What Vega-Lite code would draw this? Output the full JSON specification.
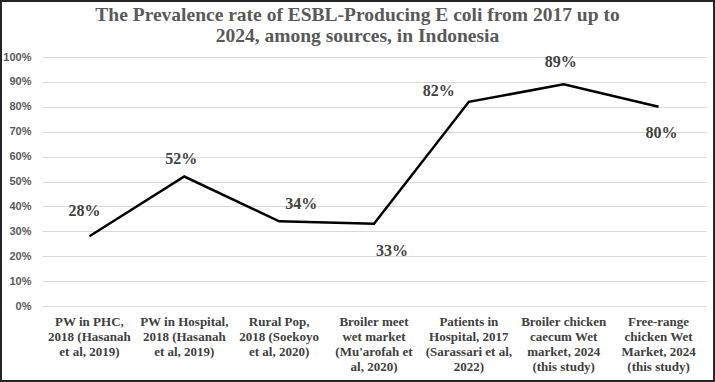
{
  "$schema": "https://vega.github.io/schema/vega-lite/v6.json",
  "width": 713,
  "height": 380,
  "autosize": {"type": "none"},
  "padding": 1,
  "background": "white",
  "config": {"view": {"stroke": "#262626", "strokeWidth": 2}},
  "title": {
    "text": ["The Prevalence rate of ESBL-Producing E coli from 2017 up to", "2024, among sources, in Indonesia"],
    "font": "Liberation Serif",
    "fontSize": 19.5,
    "fontWeight": "bold",
    "color": "#595959",
    "anchor": "middle",
    "offset": -45,
    "lineHeight": 21
  },
  "data": {
    "values": [
      {"source": "PW in PHC,|2018 (Hasanah|et al, 2019)", "rate": 0.28},
      {"source": "PW in Hospital,|2018 (Hasanah|et al, 2019)", "rate": 0.52},
      {"source": "Rural Pop,|2018 (Soekoyo|et al, 2020)", "rate": 0.34},
      {"source": "Broiler meet|wet market|(Mu'arofah et|al, 2020)", "rate": 0.33},
      {"source": "Patients in|Hospital, 2017|(Sarassari et al,|2022)", "rate": 0.82},
      {"source": "Broiler chicken|caecum Wet|market, 2024|(this study)", "rate": 0.89},
      {"source": "Free-range|chicken Wet|Market, 2024|(this study)", "rate": 0.80}
    ]
  },
  "encoding": {
    "x": {
      "field": "source", "type": "nominal", "sort": null,
      "scale": {"type": "band", "paddingInner": 0, "paddingOuter": 0, "range": [41, 705]},
      "axis": {
        "title": null, "labelAngle": 0, "domain": false, "ticks": false, "offset": -75,
        "labelPadding": 9, "labelExpr": "split(datum.label, '|')",
        "labelFont": "Liberation Serif", "labelFontSize": 13, "labelFontWeight": "bold",
        "labelColor": "#404040", "labelLineHeight": 15, "labelLimit": 0, "labelBaseline": "top"
      }
    },
    "y": {
      "field": "rate", "type": "quantitative",
      "scale": {"domain": [0, 1], "range": [305, 56]},
      "axis": {
        "title": null, "format": ".0%", "values": [0, 0.1, 0.2, 0.3, 0.4, 0.5, 0.6, 0.7, 0.8, 0.9, 1],
        "domain": false, "ticks": false, "labelPadding": 11, "offset": -41,
        "labelFont": "Liberation Sans", "labelFontSize": 11, "labelFontWeight": "bold",
        "labelColor": "#595959", "gridColor": "#d9d9d9", "gridWidth": 1
      }
    }
  },
  "layer": [
    {"mark": {"type": "line", "color": "black", "strokeWidth": 2.5}},
    {"transform": [{"filter": "datum.rate == 0.28"}], "mark": {"type": "text", "dx": -5, "dy": -25, "font": "Liberation Serif", "fontSize": 16, "fontWeight": "bold", "color": "#404040"}, "encoding": {"text": {"field": "rate", "format": ".0%"}}},
    {"transform": [{"filter": "datum.rate == 0.52"}], "mark": {"type": "text", "dx": -3, "dy": -18, "font": "Liberation Serif", "fontSize": 16, "fontWeight": "bold", "color": "#404040"}, "encoding": {"text": {"field": "rate", "format": ".0%"}}},
    {"transform": [{"filter": "datum.rate == 0.34"}], "mark": {"type": "text", "dx": 22, "dy": -17, "font": "Liberation Serif", "fontSize": 16, "fontWeight": "bold", "color": "#404040"}, "encoding": {"text": {"field": "rate", "format": ".0%"}}},
    {"transform": [{"filter": "datum.rate == 0.33"}], "mark": {"type": "text", "dx": 18, "dy": 27, "font": "Liberation Serif", "fontSize": 16, "fontWeight": "bold", "color": "#404040"}, "encoding": {"text": {"field": "rate", "format": ".0%"}}},
    {"transform": [{"filter": "datum.rate == 0.82"}], "mark": {"type": "text", "dx": -30, "dy": -11, "font": "Liberation Serif", "fontSize": 16, "fontWeight": "bold", "color": "#404040"}, "encoding": {"text": {"field": "rate", "format": ".0%"}}},
    {"transform": [{"filter": "datum.rate == 0.89"}], "mark": {"type": "text", "dx": -3, "dy": -22, "font": "Liberation Serif", "fontSize": 16, "fontWeight": "bold", "color": "#404040"}, "encoding": {"text": {"field": "rate", "format": ".0%"}}},
    {"transform": [{"filter": "datum.rate == 0.8"}], "mark": {"type": "text", "dx": 3, "dy": 26, "font": "Liberation Serif", "fontSize": 16, "fontWeight": "bold", "color": "#404040"}, "encoding": {"text": {"field": "rate", "format": ".0%"}}}
  ]
}
